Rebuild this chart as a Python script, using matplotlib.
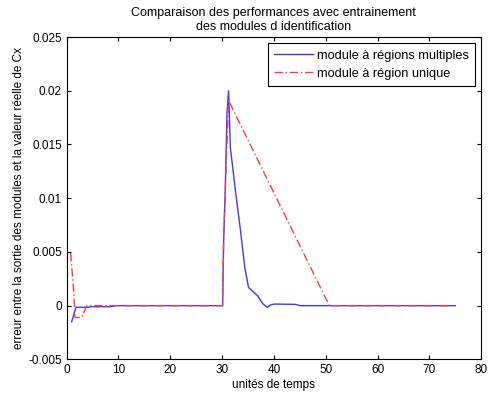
import matplotlib
matplotlib.use("Agg")
import matplotlib.pyplot as plt

# Values
t_multi = [0.97, 1.8, 4.2, 4.5, 8.5, 9.5, 30.0, 30.1, 30.3, 30.6, 30.95,
           31.25, 31.6, 32.6, 33.5, 34.4, 35.1, 36.0, 36.9, 37.8, 38.7,
           39.5, 40.2, 44.2, 45.0, 75.0]
err_multi = [-0.0015, -0.00015, -0.00015, -0.0001, -0.0001, 0.0, 0.0, 0.0,
             0.006, 0.0106, 0.018, 0.0200, 0.0147, 0.0106, 0.0072, 0.0035,
             0.0017, 0.0013, 0.0009, 0.0002, -0.00015, 0.0001, 0.00015,
             0.00012, 0.0, 0.0]

t_unique = [0.77, 1.4, 1.6, 2.9, 3.9, 30.1, 30.3, 30.6, 31.25, 50.7, 75.0]
err_unique = [0.0049, 0.0011, -0.0011, -0.0011, 0.0, 0.0, 0.0063, 0.0106,
              0.0191, 0.0, 0.0]

plt.rcParams['font.family'] = ['Liberation Sans', 'DejaVu Sans']
plt.rcParams['font.size'] = 8

fig = plt.figure(figsize=(4.9, 3.98), dpi=100)
ax = fig.add_axes([0.136, 0.097, 0.846, 0.81])

ax.plot(t_multi, err_multi, color='#3a3aff', lw=1.0,
        label='module à régions multiples')
ax.plot(t_unique, err_unique, color='#ff3a3a', lw=1.0, linestyle='-.',
        dashes=(6, 2, 1, 2), label='module à région unique')

ax.set_xlim(0, 80)
ax.set_ylim(-0.005, 0.025)
ax.set_xticks(range(0, 81, 10))
ax.set_yticks([-0.005, 0, 0.005, 0.01, 0.015, 0.02, 0.025])
ax.set_yticklabels(['-0.005', '0', '0.005', '0.01', '0.015', '0.02', '0.025'])
ax.tick_params(direction='in', length=3, top=True, right=True, labelsize=8.5)

ax.set_title('Comparaison des performances avec entrainement\n'
             'des modules d identification', fontsize=9, pad=5)
ax.set_xlabel('unités de temps', fontsize=8.5, labelpad=2)
ax.set_ylabel('erreur entre la sortie des modules et la valeur réelle de Cx',
              fontsize=8.5, labelpad=2)

leg = ax.legend(loc='upper right', fontsize=9.2, fancybox=False,
                edgecolor='black', framealpha=1, borderaxespad=0.5,
                handlelength=3.0, handletextpad=0.3, borderpad=0.5,
                labelspacing=0.45)
leg.get_frame().set_linewidth(0.8)

fig.savefig('out.png', dpi=100)
